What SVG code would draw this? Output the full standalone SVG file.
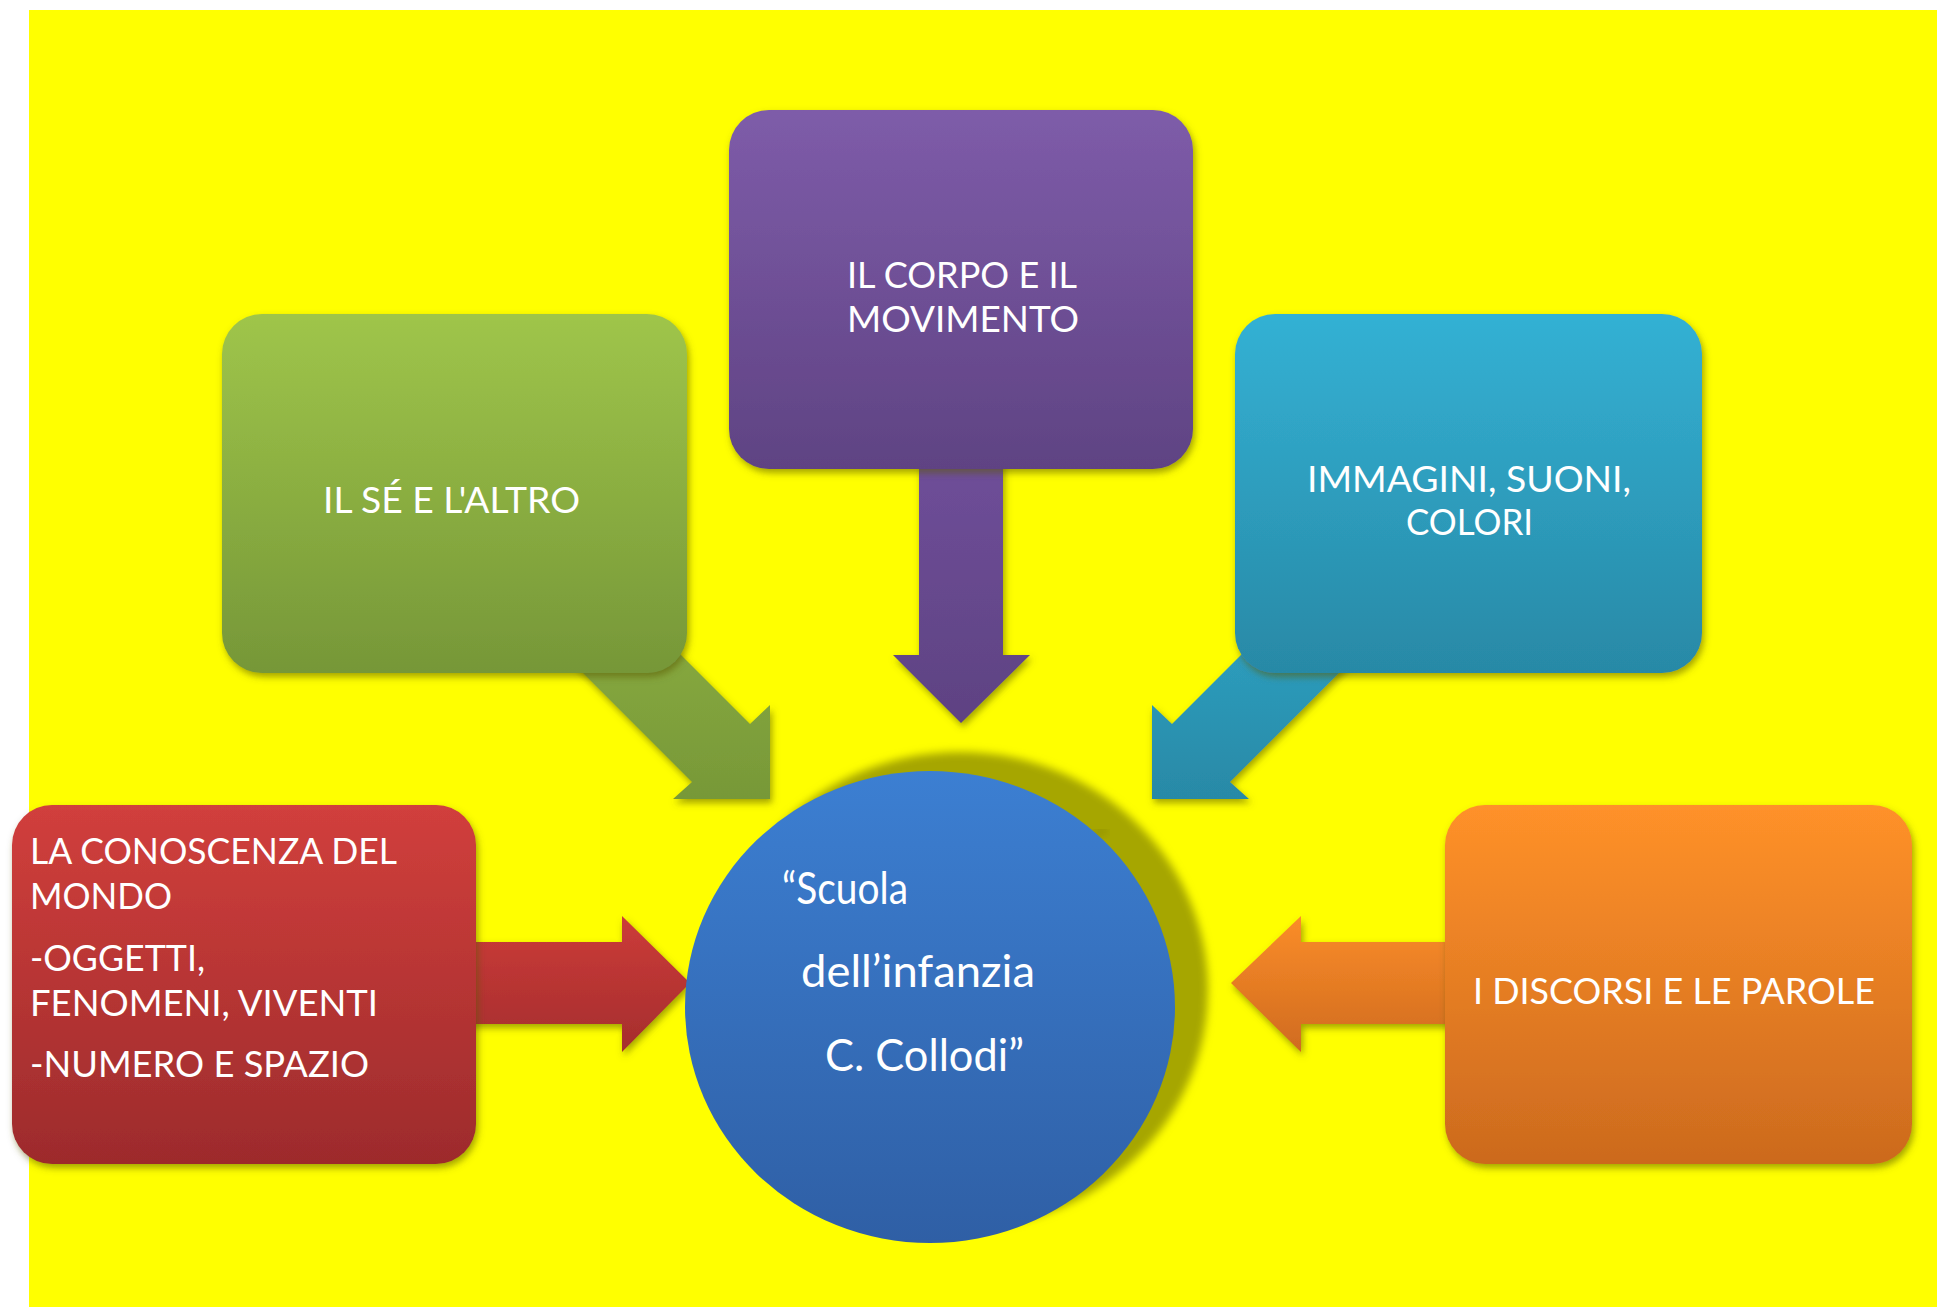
<svg xmlns="http://www.w3.org/2000/svg" width="1937" height="1307" viewBox="0 0 1937 1307">
<defs>
<style>
.t{font-family:Lato,"Open Sans","Liberation Sans",sans-serif;fill:#ffffff;font-size:37px;}
.c{font-size:44px;}
</style>
<filter id="sh" x="-10%" y="-10%" width="125%" height="125%">
<feDropShadow dx="2" dy="4" stdDeviation="3.5" flood-color="#5a5a00" flood-opacity="0.55"/>
</filter>
<filter id="blur" x="-10%" y="-10%" width="120%" height="120%">
<feGaussianBlur stdDeviation="4"/>
</filter>
<linearGradient id="gG" x1="0" y1="0" x2="0" y2="1"><stop offset="0" stop-color="#9fc54a"/><stop offset="1" stop-color="#769738"/></linearGradient>
<linearGradient id="gP" x1="0" y1="0" x2="0" y2="1"><stop offset="0" stop-color="#7e5ca9"/><stop offset="1" stop-color="#5f4383"/></linearGradient>
<linearGradient id="gC" x1="0" y1="0" x2="0" y2="1"><stop offset="0" stop-color="#33b1d4"/><stop offset="1" stop-color="#2889a6"/></linearGradient>
<linearGradient id="gR" x1="0" y1="0" x2="0" y2="1"><stop offset="0" stop-color="#d13f3c"/><stop offset="1" stop-color="#9d2b2c"/></linearGradient>
<linearGradient id="gO" x1="0" y1="0" x2="0" y2="1"><stop offset="0" stop-color="#ff9129"/><stop offset="1" stop-color="#cc6a1e"/></linearGradient>
<linearGradient id="gB" x1="0" y1="0" x2="0" y2="1"><stop offset="0" stop-color="#3c7fd2"/><stop offset="1" stop-color="#2f5fa5"/></linearGradient>
<linearGradient id="aG" gradientUnits="userSpaceOnUse" x1="0" y1="600" x2="0" y2="800"><stop offset="0" stop-color="#8bad40"/><stop offset="1" stop-color="#779838"/></linearGradient>
<linearGradient id="aP" gradientUnits="userSpaceOnUse" x1="0" y1="470" x2="0" y2="723"><stop offset="0" stop-color="#6e4e98"/><stop offset="1" stop-color="#5e4282"/></linearGradient>
<linearGradient id="aC" gradientUnits="userSpaceOnUse" x1="0" y1="600" x2="0" y2="800"><stop offset="0" stop-color="#2fa3c4"/><stop offset="1" stop-color="#2889a6"/></linearGradient>
<linearGradient id="aR" gradientUnits="userSpaceOnUse" x1="0" y1="916" x2="0" y2="1052"><stop offset="0" stop-color="#cc3c39"/><stop offset="1" stop-color="#a52d2d"/></linearGradient>
<linearGradient id="aO" gradientUnits="userSpaceOnUse" x1="0" y1="916" x2="0" y2="1052"><stop offset="0" stop-color="#fb8d29"/><stop offset="1" stop-color="#d06b1f"/></linearGradient>
</defs>
<rect x="0" y="0" width="1937" height="1307" fill="#ffffff"/>
<rect x="29" y="10" width="1908" height="1297" fill="#ffff00"/>

<g id="connectors">
<polygon filter="url(#sh)" fill="url(#aG)" points="555,645 692,782 673,799 770,799 770,705 750,724 613,587"/>
<polygon filter="url(#sh)" fill="url(#aC)" points="1367,645 1230,782 1249,799 1152,799 1152,705 1172,724 1309,587"/>
<polygon filter="url(#sh)" fill="url(#aP)" points="919,440 919,655 893,655 961,723 1030,655 1003,655 1003,440"/>
<polygon filter="url(#sh)" fill="url(#aR)" points="440,942 622,942 622,916 690,983 622,1052 622,1024 440,1024"/>
<polygon filter="url(#sh)" fill="url(#aO)" points="1480,942 1301,942 1301,916 1231,983 1301,1052 1301,1024 1480,1024"/>
</g>

<g id="node-se">
<rect x="222" y="314" width="465" height="359" rx="40" fill="url(#gG)" filter="url(#sh)"/>
<text class="t" x="323" y="513" textLength="257" lengthAdjust="spacingAndGlyphs">IL SÉ E L'ALTRO</text>
</g>
<g id="node-corpo">
<rect x="729" y="110" width="464" height="359" rx="40" fill="url(#gP)" filter="url(#sh)"/>
<text class="t" x="847" y="288" textLength="230" lengthAdjust="spacingAndGlyphs">IL CORPO E IL</text>
<text class="t" x="847" y="332" textLength="232" lengthAdjust="spacingAndGlyphs">MOVIMENTO</text>
</g>
<g id="node-immagini">
<rect x="1235" y="314" width="467" height="359" rx="40" fill="url(#gC)" filter="url(#sh)"/>
<text class="t" x="1307" y="492" textLength="324" lengthAdjust="spacingAndGlyphs">IMMAGINI, SUONI,</text>
<text class="t" x="1406" y="535" textLength="127" lengthAdjust="spacingAndGlyphs">COLORI</text>
</g>
<g id="node-conoscenza">
<rect x="12" y="805" width="464" height="359" rx="40" fill="url(#gR)" filter="url(#sh)"/>
<text class="t" x="30" y="864" textLength="367" lengthAdjust="spacingAndGlyphs">LA CONOSCENZA DEL</text>
<text class="t" x="30" y="909" textLength="142" lengthAdjust="spacingAndGlyphs">MONDO</text>
<text class="t" x="30" y="971" textLength="175" lengthAdjust="spacingAndGlyphs">-OGGETTI,</text>
<text class="t" x="30" y="1016" textLength="348" lengthAdjust="spacingAndGlyphs">FENOMENI, VIVENTI</text>
<text class="t" x="30" y="1077" textLength="339" lengthAdjust="spacingAndGlyphs">-NUMERO E SPAZIO</text>
</g>
<g id="node-discorsi">
<rect x="1445" y="805" width="467" height="359" rx="40" fill="url(#gO)" filter="url(#sh)"/>
<text class="t" x="1473" y="1004" textLength="402" lengthAdjust="spacingAndGlyphs">I DISCORSI E LE PAROLE</text>
</g>
<g id="node-scuola">
<ellipse cx="960" cy="990" rx="248" ry="238" fill="#a6a600" filter="url(#blur)"/>
<path d="M1094,838 a9,9 0 0 1 14,-6" fill="none" stroke="#7f7f00" stroke-width="3" filter="url(#blur)"/>
<ellipse cx="930" cy="1007" rx="245" ry="236" fill="url(#gB)"/>
<text class="t c" x="782" y="904" textLength="126" lengthAdjust="spacingAndGlyphs">“Scuola</text>
<text class="t c" x="801" y="987" textLength="234" lengthAdjust="spacingAndGlyphs">dell’infanzia</text>
<text class="t c" x="825" y="1071" textLength="199" lengthAdjust="spacingAndGlyphs">C. Collodi”</text>
</g>
</svg>
